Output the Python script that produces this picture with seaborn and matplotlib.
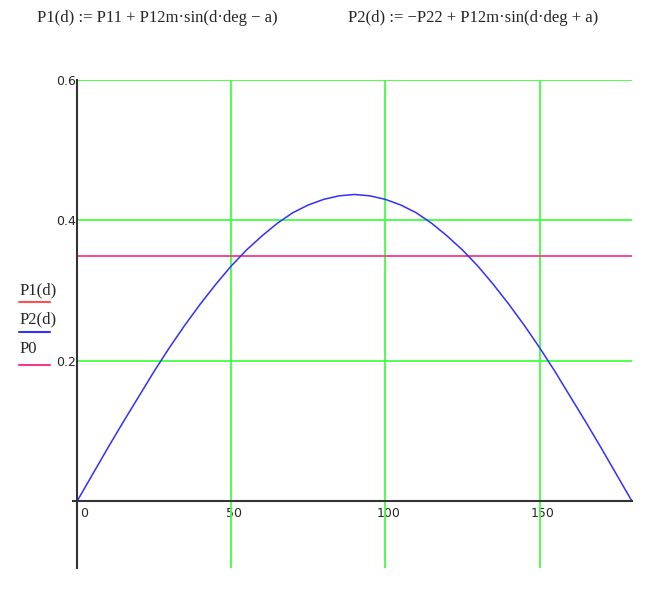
import matplotlib
matplotlib.use("Agg")
import matplotlib.pyplot as plt
import matplotlib.transforms as mtransforms
from matplotlib.lines import Line2D
import seaborn as sns
import pandas as pd

# angle d in degrees and P2(d)
d_deg = [0, 5, 10, 15, 20, 25, 30, 35, 40, 45, 50, 55, 60, 65, 70, 75, 80, 85, 90,
         95, 100, 105, 110, 115, 120, 125, 130, 135, 140, 145, 150, 155, 160, 165,
         170, 175, 180]
p2_vals = [0.0, 0.038, 0.076, 0.113, 0.149, 0.185, 0.219, 0.251, 0.281, 0.309,
           0.335, 0.358, 0.378, 0.396, 0.411, 0.422, 0.430, 0.435, 0.437,
           0.435, 0.430, 0.422, 0.411, 0.396, 0.378, 0.358, 0.335, 0.309,
           0.281, 0.251, 0.219, 0.185, 0.149, 0.113, 0.076, 0.038, 0.0]
p0_level = 0.35

x_ticks = [0, 50, 100, 150]
x_tick_labels = ["0", "50", "100", "150"]
y_ticks = [0.2, 0.4, 0.6]
y_tick_labels = ["0.2", "0.4", "0.6"]

legend_names = ["P1(d)", "P2(d)", "P0"]
legend_colors = ["#ff5050", "#3030ff", "#f03c8c"]

formula1 = "P1(d) := P11 + P12m\u00b7sin(d\u00b7deg \u2212 a)"
formula2 = "P2(d) := \u2212P22 + P12m\u00b7sin(d\u00b7deg + a)"

df = pd.DataFrame({"d": d_deg, "P2": p2_vals})

sns.set_style("white")
plt.rcParams["font.family"] = ["DejaVu Sans"]

W, H = 667, 596
fig = plt.figure(figsize=(W / 100, H / 100), dpi=100)
ax = fig.add_axes([73 / W, 1 - 568 / H, (632 - 73) / W, (568 - 80) / H])

grid_green = "#40ff40"
for xv in x_ticks[1:]:
    ax.axvline(xv, color=grid_green, lw=1.3, zorder=1)
for yv in y_ticks:
    ax.hlines(yv, 0, 180, color=grid_green, lw=1.3, zorder=1)

ax.hlines(p0_level, 0, 180, color=legend_colors[2], lw=1.3, zorder=2)
sns.lineplot(data=df, x="d", y="P2", ax=ax, color=legend_colors[1], lw=1.1,
             sort=False, zorder=3)

ax.set_xlim(-1.3, 180)
ax.set_ylim(-0.095, 0.6)
ax.set_xlabel("")
ax.set_ylabel("")

for side in ["top", "right"]:
    ax.spines[side].set_visible(False)
ax.spines["bottom"].set_position(("data", 0))
ax.spines["left"].set_position(("data", 0))
for side in ["bottom", "left"]:
    ax.spines[side].set_color("#333333")
    ax.spines[side].set_linewidth(1.5)
    ax.spines[side].set_zorder(4)

ax.set_xticks(x_ticks)
ax.set_xticklabels(x_tick_labels)
ax.set_yticks(y_ticks)
ax.set_yticklabels(y_tick_labels)
ax.tick_params(axis="both", direction="inout", length=6, width=1,
               color="#333333", labelsize=9)
ax.tick_params(axis="x", pad=1)
ax.tick_params(axis="y", pad=-2)

shift = mtransforms.ScaledTranslation(3 / 100, 0, fig.dpi_scale_trans)
xlabels = ax.get_xticklabels()
for lab in xlabels:
    lab.set_transform(lab.get_transform() + shift)
xlabels[0].set_ha("left")

# formulas on top
fig.text(37 / W, 1 - 18 / H, formula1, family="Liberation Serif", fontsize=12,
         va="center", ha="left")
fig.text(348 / W, 1 - 18 / H, formula2, family="Liberation Serif", fontsize=12,
         va="center", ha="left")

# Mathcad-style legend on the left
text_y = [290, 319, 349]
line_y = [302, 332, 365]
for name, col, ty, ly in zip(legend_names, legend_colors, text_y, line_y):
    fig.text(20 / W, 1 - ty / H, name, family="Liberation Serif", fontsize=12,
             va="center", ha="left")
    fig.add_artist(Line2D([19 / W, 50 / W], [1 - ly / H, 1 - ly / H],
                          color=col, lw=1.5, transform=fig.transFigure))

fig.savefig("out.png", dpi=100)
